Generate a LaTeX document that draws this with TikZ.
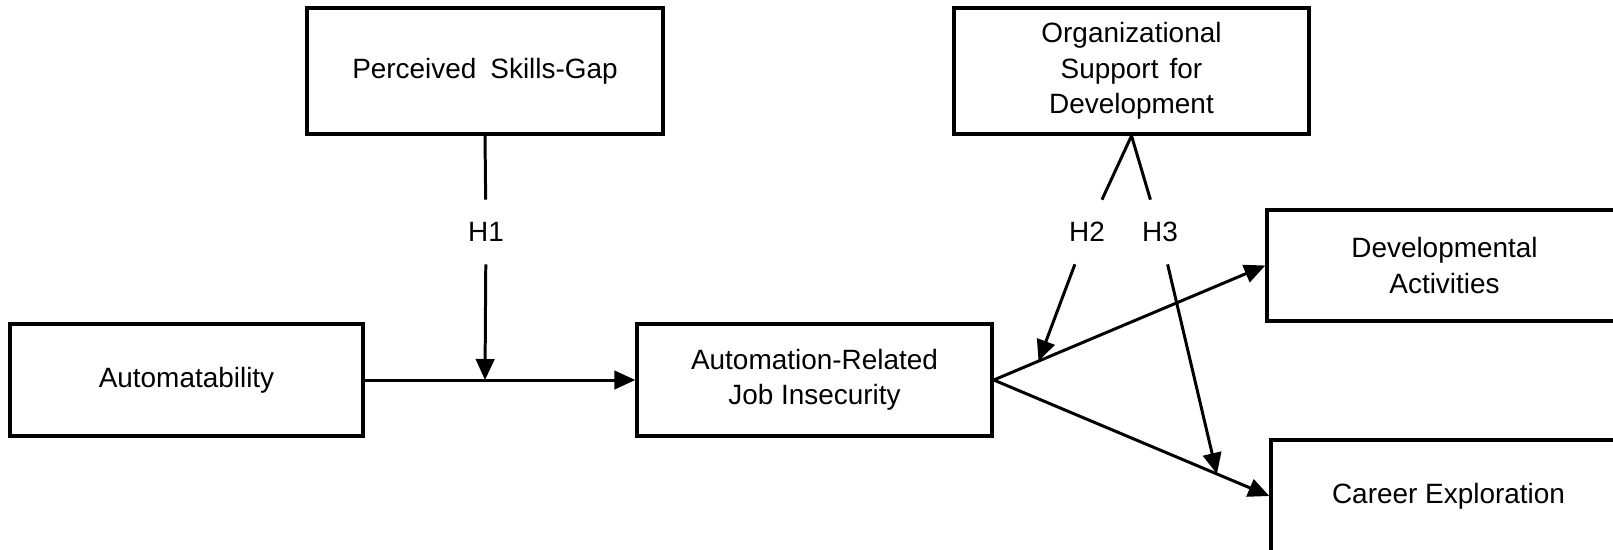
\documentclass[tikz,border=0pt]{standalone}
\usepackage{fontspec}
\setmainfont{Liberation Sans}
\usetikzlibrary{arrows.meta,calc}

\begin{document}
\begin{tikzpicture}[x=0.02cm,y=-0.02cm,
  box/.style={draw,line width=2pt,align=center,inner sep=0pt,minimum width=7.1cm,minimum height=2.24cm,font=\fontsize{15.9}{20.2}\selectfont},
  hyp/.style={inner sep=0pt,minimum height=1.28cm,font=\fontsize{15.9}{20.2}\selectfont},
  link/.style={line width=1.7pt},
  arr/.style={link,-{Triangle[length=0.42cm,width=0.37cm]}}]
\clip (0,0) rectangle (1613,549);

\node[box,minimum width=7.12cm,minimum height=2.52cm] (psg) at (485,71) {Perceived\hspace{0.5em}Skills-Gap};
\node[box,minimum height=2.52cm] (osd) at (1131.5,71) {Organizational\\Support\hspace{0.4em}for\\Development};
\node[box,minimum width=7.06cm] (auto) at (186.5,380) {Automatability};
\node[box] (arji) at (814.5,380) {Automation-Related\\Job Insecurity};
\node[box,minimum height=2.22cm] (dev) at (1444.5,265.5) {Developmental\\Activities};
\node[box] (car) at (1448.5,496) {Career Exploration};

\node[hyp] (h1) at (486,232) {H1};
\node[hyp] (h2) at (1087,232) {H2};
\node[hyp] (h3) at (1160,232) {H3};

\coordinate (h1tip) at ($(auto.east)!(psg.south)!(arji.west)$);
\coordinate (h2tip) at ($(arji.east)!0.165!(dev.west)$);
\coordinate (h3tip) at ($(arji.east)!0.81!(car.west)$);

% main paths
\draw[arr] (auto) -- (arji);
\draw[arr] (arji.east) -- (dev.west);
\draw[arr] (arji.east) -- (car.west);

% moderators
\draw[link] (psg.south) -- (h1);
\draw[arr] (h1) -- (h1tip);
\draw[link] (osd.south) -- (h2);
\draw[link] (osd.south) -- (h3);
\draw[arr] (h2) -- (h2tip);
\draw[arr] (h3) -- (h3tip);
\end{tikzpicture}
\end{document}
